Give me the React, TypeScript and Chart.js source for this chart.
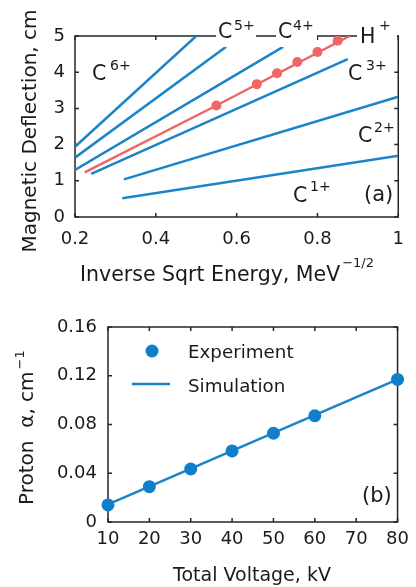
import React, { useEffect, useRef } from "react";
import { Chart, registerables } from "chart.js";

Chart.register(...registerables);

const FONT = "'DejaVu Sans', sans-serif";
const INK = "#1a1a1a";
const FRAME = "#262626";
const BLUE = "#1b84c8";
const BLUE_MARK = "#0f7fcc";
const RED = "#ef6666";

// ---------- Panel (a): magnetic deflection vs inverse sqrt energy ----------
const energyTicks = [0.2, 0.4, 0.6, 0.8, 1];
const deflectionTicks = [0, 1, 2, 3, 4, 5];

const c6Energy = [0.2, 0.5];
const c6Deflection = [1.94, 5.0];
const c5Energy = [0.2, 0.574];
const c5Deflection = [1.64, 4.7];
const c4Energy = [0.2, 0.715];
const c4Deflection = [1.3, 4.7];
const hSimEnergy = [0.224, 0.55, 0.88];
const hSimDeflection = [1.23, 3.08, 5.0];
const hExpEnergy = [0.55, 0.65, 0.7, 0.75, 0.8, 0.85];
const hExpDeflection = [3.08, 3.67, 3.97, 4.28, 4.56, 4.87];
const c3Energy = [0.24, 0.875];
const c3Deflection = [1.19, 4.36];
const c2Energy = [0.321, 1.0];
const c2Deflection = [1.04, 3.32];
const c1Energy = [0.317, 1.0];
const c1Deflection = [0.52, 1.69];

const ionLabels = ["C", "C", "C", "H", "C", "C", "C"];
const ionCharges = ["6+", "5+", "4+", "+", "3+", "2+", "1+"];

// ---------- Panel (b): proton alpha vs total voltage ----------
const voltageTicks = [10, 20, 30, 40, 50, 60, 70, 80];
const alphaTicks = [0, 0.04, 0.08, 0.12, 0.16];
const expVoltage = [10, 20, 30, 40, 50, 60, 80];
const expAlpha = [0.014, 0.029, 0.0435, 0.0583, 0.0728, 0.0872, 0.117];
const simVoltage = [10, 80];
const simAlpha = [0.0145, 0.117];

const pts = (xs: number[], ys: number[]) => xs.map((x, i) => ({ x, y: ys[i] }));
const fmt = (v: number) => parseFloat(Number(v).toFixed(2)).toString();

function setFont(ctx: CanvasRenderingContext2D, size: number) {
  ctx.font = `${size}px ${FONT}`;
}

function txt(
  ctx: CanvasRenderingContext2D,
  s: string,
  x: number,
  y: number,
  size: number,
  align: CanvasTextAlign = "left"
) {
  setFont(ctx, size);
  ctx.textAlign = align;
  ctx.textBaseline = "alphabetic";
  ctx.fillStyle = INK;
  ctx.fillText(s, x, y);
}

const framePlugin = {
  id: "frameTicks",
  beforeDatasetsDraw(chart: any) {
    const { ctx, chartArea: a, scales } = chart;
    ctx.save();
    ctx.strokeStyle = FRAME;
    ctx.lineWidth = 1.5;
    ctx.strokeRect(a.left, a.top, a.right - a.left, a.bottom - a.top);
    const L = 4;
    ctx.beginPath();
    scales.x.ticks.forEach((t: any) => {
      const px = scales.x.getPixelForValue(t.value);
      ctx.moveTo(px, a.bottom);
      ctx.lineTo(px, a.bottom - L);
      ctx.moveTo(px, a.top);
      ctx.lineTo(px, a.top + L);
    });
    scales.y.ticks.forEach((t: any) => {
      const py = scales.y.getPixelForValue(t.value);
      ctx.moveTo(a.left, py);
      ctx.lineTo(a.left + L, py);
      ctx.moveTo(a.right, py);
      ctx.lineTo(a.right - L, py);
    });
    ctx.stroke();
    ctx.restore();
  },
};

const topLabelPlugin = {
  id: "topLabels",
  afterDraw(chart: any) {
    const ctx: CanvasRenderingContext2D = chart.ctx;
    ctx.save();
    // white boxes for labels sitting on the top border
    ctx.fillStyle = "#ffffff";
    ctx.fillRect(216, 16, 40, 31);
    ctx.fillRect(276, 16, 41, 31);
    ctx.fillRect(357, 16, 40, 31);
    const pos = [
      [92, 80, 110, 70],
      [218, 38, 234, 30],
      [278, 38, 293, 30],
      [360, 43, 379, 30],
      [348, 80, 366, 70],
      [358, 142, 374, 132],
      [293, 202, 310, 191],
    ];
    pos.forEach((p, i) => {
      txt(ctx, ionLabels[i], p[0], p[1], 20.5);
      txt(ctx, ionCharges[i], p[2], p[3], 14);
    });
    txt(ctx, "(a)", 364, 201, 21);
    // x title
    const xt = "Inverse Sqrt Energy, MeV";
    txt(ctx, xt, 80, 281, 20.5);
    setFont(ctx, 20.5);
    const w = ctx.measureText(xt).width;
    txt(ctx, "\u22121/2", 80 + w + 2, 267, 13);
    // y title
    ctx.translate(36, 131);
    ctx.rotate(-Math.PI / 2);
    txt(ctx, "Magnetic Deflection, cm", 0, 0, 20, "center");
    ctx.restore();
  },
};

const bottomLabelPlugin = {
  id: "bottomLabels",
  afterDraw(chart: any) {
    const ctx: CanvasRenderingContext2D = chart.ctx;
    ctx.save();
    // legend
    ctx.fillStyle = BLUE_MARK;
    ctx.beginPath();
    ctx.arc(152, 61, 6.5, 0, Math.PI * 2);
    ctx.fill();
    txt(ctx, "Experiment", 188, 67.7, 18.3);
    ctx.strokeStyle = BLUE;
    ctx.lineWidth = 2.5;
    ctx.beginPath();
    ctx.moveTo(132, 94);
    ctx.lineTo(170, 94);
    ctx.stroke();
    txt(ctx, "Simulation", 188, 101.7, 18.3);
    txt(ctx, "(b)", 362, 212, 21);
    txt(ctx, "Total Voltage, kV", 252, 291, 19, "center");
    ctx.translate(33, 215);
    ctx.rotate(-Math.PI / 2);
    const yt = "Proton  \u03b1, cm";
    txt(ctx, yt, 0, 0, 20);
    setFont(ctx, 20);
    const w = ctx.measureText(yt).width;
    txt(ctx, "\u22121", w + 2, -9, 13);
    ctx.restore();
  },
};

function lineDs(xs: number[], ys: number[], color: string) {
  return {
    data: pts(xs, ys),
    borderColor: color,
    borderWidth: 2.5,
    pointRadius: 0,
    tension: 0,
    fill: false,
  };
}

function axisBase(min: number, max: number, tickVals: number[], pad: number) {
  return {
    type: "linear" as const,
    min,
    max,
    grid: { display: false, drawTicks: false },
    border: { display: false },
    afterBuildTicks: (s: any) => {
      s.ticks = tickVals.map((v) => ({ value: v }));
    },
    ticks: {
      color: INK,
      font: { family: FONT, size: 18 },
      padding: pad,
      autoSkip: false,
      maxRotation: 0,
      callback: (v: any) => fmt(v),
    },
  };
}

export default function App() {
  const topRef = useRef<HTMLCanvasElement>(null);
  const botRef = useRef<HTMLCanvasElement>(null);

  useEffect(() => {
    const top = new Chart(topRef.current!, {
      type: "line",
      data: {
        datasets: [
          {
            data: pts(hExpEnergy, hExpDeflection),
            showLine: false,
            pointRadius: 5,
            pointBackgroundColor: RED,
            pointBorderWidth: 0,
            borderColor: RED,
          },
          lineDs(hSimEnergy, hSimDeflection, RED),
          lineDs(c6Energy, c6Deflection, BLUE),
          lineDs(c5Energy, c5Deflection, BLUE),
          lineDs(c4Energy, c4Deflection, BLUE),
          lineDs(c3Energy, c3Deflection, BLUE),
          lineDs(c2Energy, c2Deflection, BLUE),
          lineDs(c1Energy, c1Deflection, BLUE),
        ] as any,
      },
      options: {
        responsive: false,
        animation: false,
        devicePixelRatio: 1,
        layout: { padding: { top: 36, right: 11, left: 0, bottom: 0 } },
        plugins: { legend: { display: false }, tooltip: { enabled: false } },
        scales: {
          x: {
            ...axisBase(0.2, 1, energyTicks, 12),
            afterFit: (s: any) => {
              s.height = 73;
            },
          },
          y: {
            ...axisBase(0, 5, deflectionTicks, 10),
            afterFit: (s: any) => {
              s.width = 75;
            },
          },
        } as any,
      },
      plugins: [framePlugin, topLabelPlugin],
    });

    const bot = new Chart(botRef.current!, {
      type: "line",
      data: {
        datasets: [
          {
            data: pts(expVoltage, expAlpha),
            showLine: false,
            pointRadius: 6.5,
            pointBackgroundColor: BLUE_MARK,
            pointBorderWidth: 0,
            borderColor: BLUE_MARK,
            clip: false,
          },
          { ...lineDs(simVoltage, simAlpha, BLUE), clip: false },
        ] as any,
      },
      options: {
        responsive: false,
        animation: false,
        devicePixelRatio: 1,
        layout: { padding: { top: 37, right: 11, left: 0, bottom: 0 } },
        plugins: { legend: { display: false }, tooltip: { enabled: false } },
        scales: {
          x: {
            ...axisBase(10, 80, voltageTicks, 7),
            afterFit: (s: any) => {
              s.height = 65;
            },
          },
          y: {
            ...axisBase(0, 0.16, alphaTicks, 11),
            afterFit: (s: any) => {
              s.width = 108;
            },
          },
        } as any,
      },
      plugins: [framePlugin, bottomLabelPlugin],
    });

    return () => {
      top.destroy();
      bot.destroy();
    };
  }, []);

  return (
    <div style={{ position: "absolute", left: 0, top: 0, width: 416, height: 587, background: "#fff" }}>
      <canvas ref={topRef} width={416} height={290} style={{ display: "block" }} />
      <canvas ref={botRef} width={416} height={297} style={{ display: "block" }} />
    </div>
  );
}
